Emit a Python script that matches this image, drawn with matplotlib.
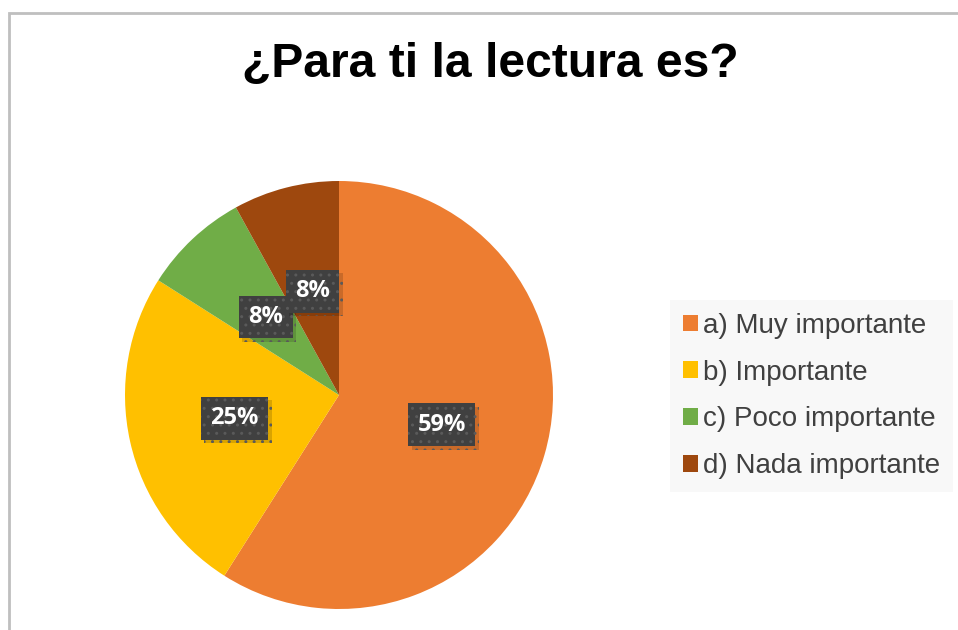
import matplotlib
matplotlib.use("Agg")
import matplotlib.pyplot as plt
from matplotlib.patches import Rectangle
import matplotlib.patheffects as pe

categories = ["a) Muy importante", "b) Importante", "c) Poco importante", "d) Nada importante"]
values = [59, 25, 8, 8]
colors = ["#ED7D31", "#FFC000", "#70AD47", "#9E480E"]
title = "¿Para ti la lectura es?"

fig = plt.figure(figsize=(9.58, 6.30), dpi=100)
fig.patch.set_facecolor("white")

# outer border (chart area frame)
fig.patches.append(Rectangle((8.5 / 958, -0.1), 1.2, 1 - 12.5 / 630 + 0.1,
                             transform=fig.transFigure, fill=False,
                             edgecolor="#bfbfbf", linewidth=2, zorder=0))

ax = fig.add_axes([(339 - 214) / 958, (630 - 609) / 630, 428 / 958, 428 / 630])
wedges, texts, autotexts = ax.pie(
    values, colors=colors, startangle=90, counterclock=False,
    autopct=lambda p: f"{p:.0f}%", pctdistance=0.5,
    wedgeprops=dict(linewidth=0),
    textprops=dict(color="white", fontsize=17, fontweight="bold", family=["Open Sans", "DejaVu Sans"]),
)
ax.set_xlim(-1, 1)
ax.set_ylim(-1, 1)
ax.set_aspect("equal")
ax.axis("off")

for t in autotexts:
    t.set_bbox(dict(boxstyle="square,pad=0.4", facecolor="#404040",
                    edgecolor="#5a5a5a", linewidth=0, hatch=".."))
    t.get_bbox_patch().set_path_effects([
        pe.SimplePatchShadow(offset=(2.5, -2.5), shadow_rgbFace="black", alpha=0.15),
        pe.Normal()])

fig.text(490.5 / 958, 1 - 64 / 630, title, ha="center", va="center",
         fontsize=34.6, fontweight="bold", family="Liberation Sans", color="black")

leg = fig.legend(wedges, categories, loc="center left",
                 bbox_to_anchor=(670 / 958, 1 - 396 / 630),
                 frameon=True, facecolor="#f8f8f8", edgecolor="none", framealpha=1,
                 fancybox=False, prop=dict(family="Liberation Sans", size=20),
                 labelcolor="#404040", handlelength=0.55, handleheight=0.55,
                 handletextpad=0.2, labelspacing=0.75, borderpad=0.45,
                 borderaxespad=0)

fig.savefig("out.png", dpi=100, facecolor="white")
